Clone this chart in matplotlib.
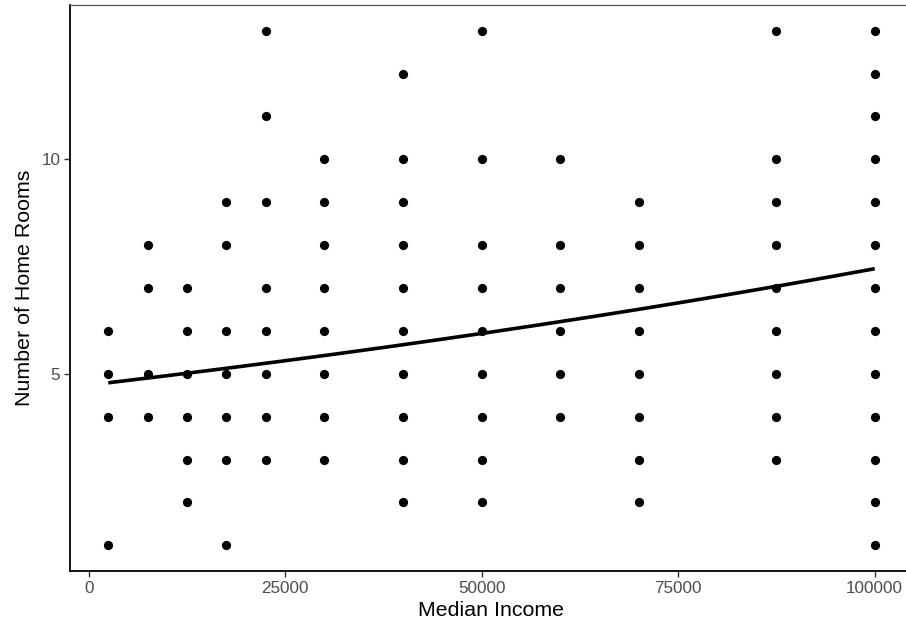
import numpy as np
import matplotlib
matplotlib.use("Agg")
import matplotlib.pyplot as plt

plt.rcParams['font.family'] = ['Liberation Sans', 'DejaVu Sans']

# Observed (income, rooms) combinations, grouped by income bracket midpoint
income_levels = [2500, 7500, 12500, 17500, 22500, 30000,
                 40000, 50000, 60000, 70000, 87500, 100000]
rooms_by_level = [
    [6, 5, 4, 1],
    [8, 7, 5, 4],
    [7, 6, 5, 4, 3, 2],
    [9, 8, 6, 5, 4, 3, 1],
    [13, 11, 9, 7, 6, 5, 4, 3],
    [10, 9, 8, 7, 6, 5, 4, 3],
    [12, 10, 9, 8, 7, 6, 5, 4, 3, 2],
    [13, 10, 8, 7, 6, 5, 4, 3, 2],
    [10, 8, 7, 6, 5, 4],
    [9, 8, 7, 6, 5, 4, 3, 2],
    [13, 10, 9, 8, 7, 6, 5, 4, 3],
    [13, 12, 11, 10, 9, 8, 7, 6, 5, 4, 3, 2, 1],
]

# Poisson GLM (log link) trend: rooms = exp(intercept + slope * income)
fit_intercept = 1.5552
fit_slope = 4.53e-6

x_ticks = [0, 25000, 50000, 75000, 100000]
y_ticks = [5, 10]

income = np.concatenate([[lvl] * len(r) for lvl, r in zip(income_levels, rooms_by_level)])
rooms = np.concatenate(rooms_by_level)

W, H = 906, 627
fig = plt.figure(figsize=(W / 100, H / 100), dpi=100)
ax = fig.add_axes([70 / W, (H - 571) / H, (913 - 70) / W, (571 - 5) / H])

ax.scatter(income, rooms, s=44, color='black', linewidths=0, zorder=3)

xs = np.linspace(min(income_levels), max(income_levels), 200)
ax.plot(xs, np.exp(fit_intercept + fit_slope * xs), color='black', lw=2.6,
        solid_capstyle='butt', zorder=4)

xmin, xmax = min(income_levels), max(income_levels)
xpad = 0.05 * (xmax - xmin)
ymin, ymax = rooms.min(), rooms.max()
ypad = 0.05 * (ymax - ymin)
ax.set_xlim(xmin - xpad, xmax + xpad)
ax.set_ylim(ymin - ypad, ymax + ypad)

ax.set_xticks(x_ticks)
ax.set_xticklabels([str(t) for t in x_ticks])
ax.set_yticks(y_ticks)
ax.set_yticklabels([str(t) for t in y_ticks])

ax.tick_params(axis='both', length=4, width=1.0, color='#333333',
               labelcolor='#4D4D4D', labelsize=12.3, pad=3)

for side in ['left', 'bottom']:
    ax.spines[side].set_linewidth(1.3)
    ax.spines[side].set_color('black')
ax.spines['top'].set_linewidth(0.9)
ax.spines['top'].set_color('#555555')
ax.spines['right'].set_visible(False)

ax.set_xlabel('Median Income', fontsize=15.4, color='black', labelpad=4)
ax.set_ylabel('Number of Home Rooms', fontsize=15.4, color='black', labelpad=5)

fig.savefig('out.png', dpi=100, facecolor='white')
